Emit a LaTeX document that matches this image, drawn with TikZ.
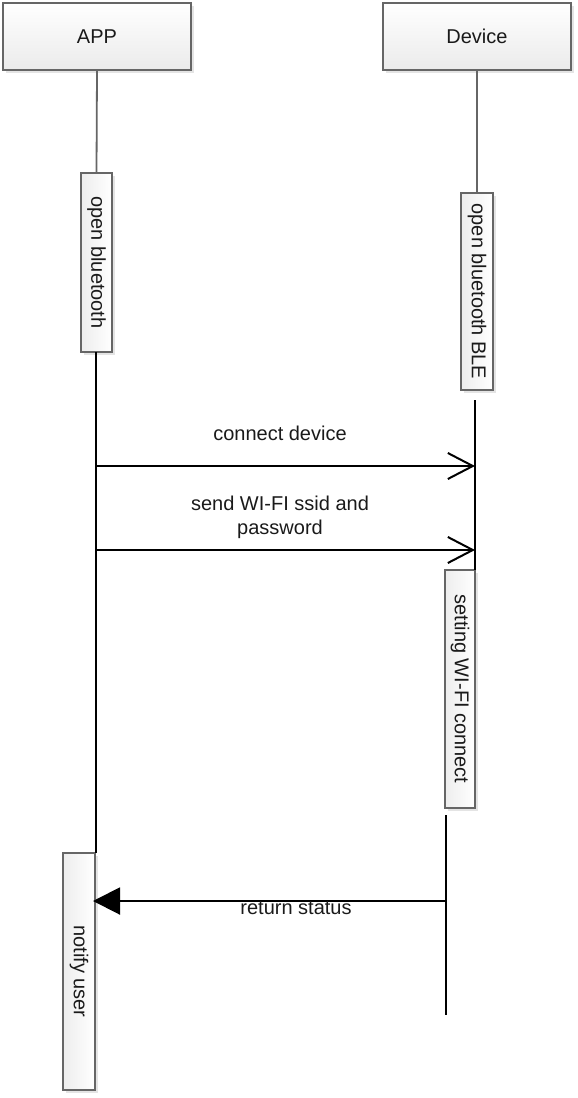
\documentclass[tikz,border=0pt]{standalone}
\usepackage{fontspec}
\setmainfont{Liberation Sans}
\usetikzlibrary{shadows,arrows.meta}
\definecolor{boxline}{HTML}{666666}
\definecolor{shadowc}{HTML}{E4E4E4}
\definecolor{txt}{HTML}{1A1A1A}
\tikzset{
  lbox/.style={draw=boxline, line width=1.6pt, top color=white, bottom color=black!8,
    drop shadow={shadow xshift=3pt, shadow yshift=-3pt, fill=shadowc, opacity=1},
    inner sep=0pt, font=\fontsize{20}{24}\selectfont, text=txt},
  actbox/.style={lbox, left color=black!7, right color=white},
  life/.style={draw=boxline, line width=1.8pt},
  act/.style={draw=black, line width=2pt},
  msg/.style={draw=black, line width=2pt, -{Straight Barb[length=25pt,width=26pt,line width=2pt]}},
  ret/.style={draw=black, line width=2pt, -{Triangle[length=27pt,width=27pt]}},
  lbl/.style={font=\fontsize{20}{24}\selectfont, text=txt, inner sep=0pt, align=center}
}
\begin{document}
\begin{tikzpicture}[x=1pt,y=-1pt]
\useasboundingbox (0,0) rectangle (578,1098);
% header boxes
\node[lbox, minimum width=188pt, minimum height=67pt] (app) at (97,36.5) {APP};
\node[lbox, minimum width=188pt, minimum height=67pt] (dev) at (477,36.5) {Device};
% activation boxes
\node[actbox, minimum width=31pt, minimum height=179pt] (ob) at (96.5,262.5) {\rotatebox{-90}{open bluetooth}};
\node[actbox, minimum width=32pt, minimum height=197pt] (ble) at (477,291.5) {\rotatebox{-90}{open bluetooth BLE}};
\node[actbox, minimum width=30pt, minimum height=238pt] (set) at (460,689) {\rotatebox{-90}{setting WI-FI connect}};
\node[actbox, minimum width=32pt, minimum height=237pt] (nu) at (79,971.5) {\rotatebox{-90}{notify user}};
% lifelines
\draw[life] (app.south) -- (ob.north);
\draw[life] (dev.south) -- (ble.north);
\coordinate (a1) at (96,352);
\coordinate (a2) at (96,853);
\draw[act] (a1) -- (a2);
\coordinate (d1) at (475,400);
\coordinate (d2) at (475,570);
\draw[act] (d1) -- (d2);
\coordinate (d3) at (446,815);
\coordinate (d4) at (446,1015);
\draw[act] (d3) -- (d4);
% messages
\coordinate (m1s) at (96,466);
\coordinate (m1e) at (475,466);
\draw[msg] (m1s) -- (m1e);
\node[lbl] (l1) at (280,433) {connect device};
\coordinate (m2s) at (96,550);
\coordinate (m2e) at (475,550);
\draw[msg] (m2s) -- (m2e);
\node[lbl] (l2) at (280,517) {send WI-FI ssid and\\password};
\coordinate (m3s) at (446,901);
\coordinate (m3e) at (93,901);
\draw[ret] (m3s) -- (m3e);
\node[lbl] (l3) at (296,908) {return status};
\end{tikzpicture}
\end{document}
